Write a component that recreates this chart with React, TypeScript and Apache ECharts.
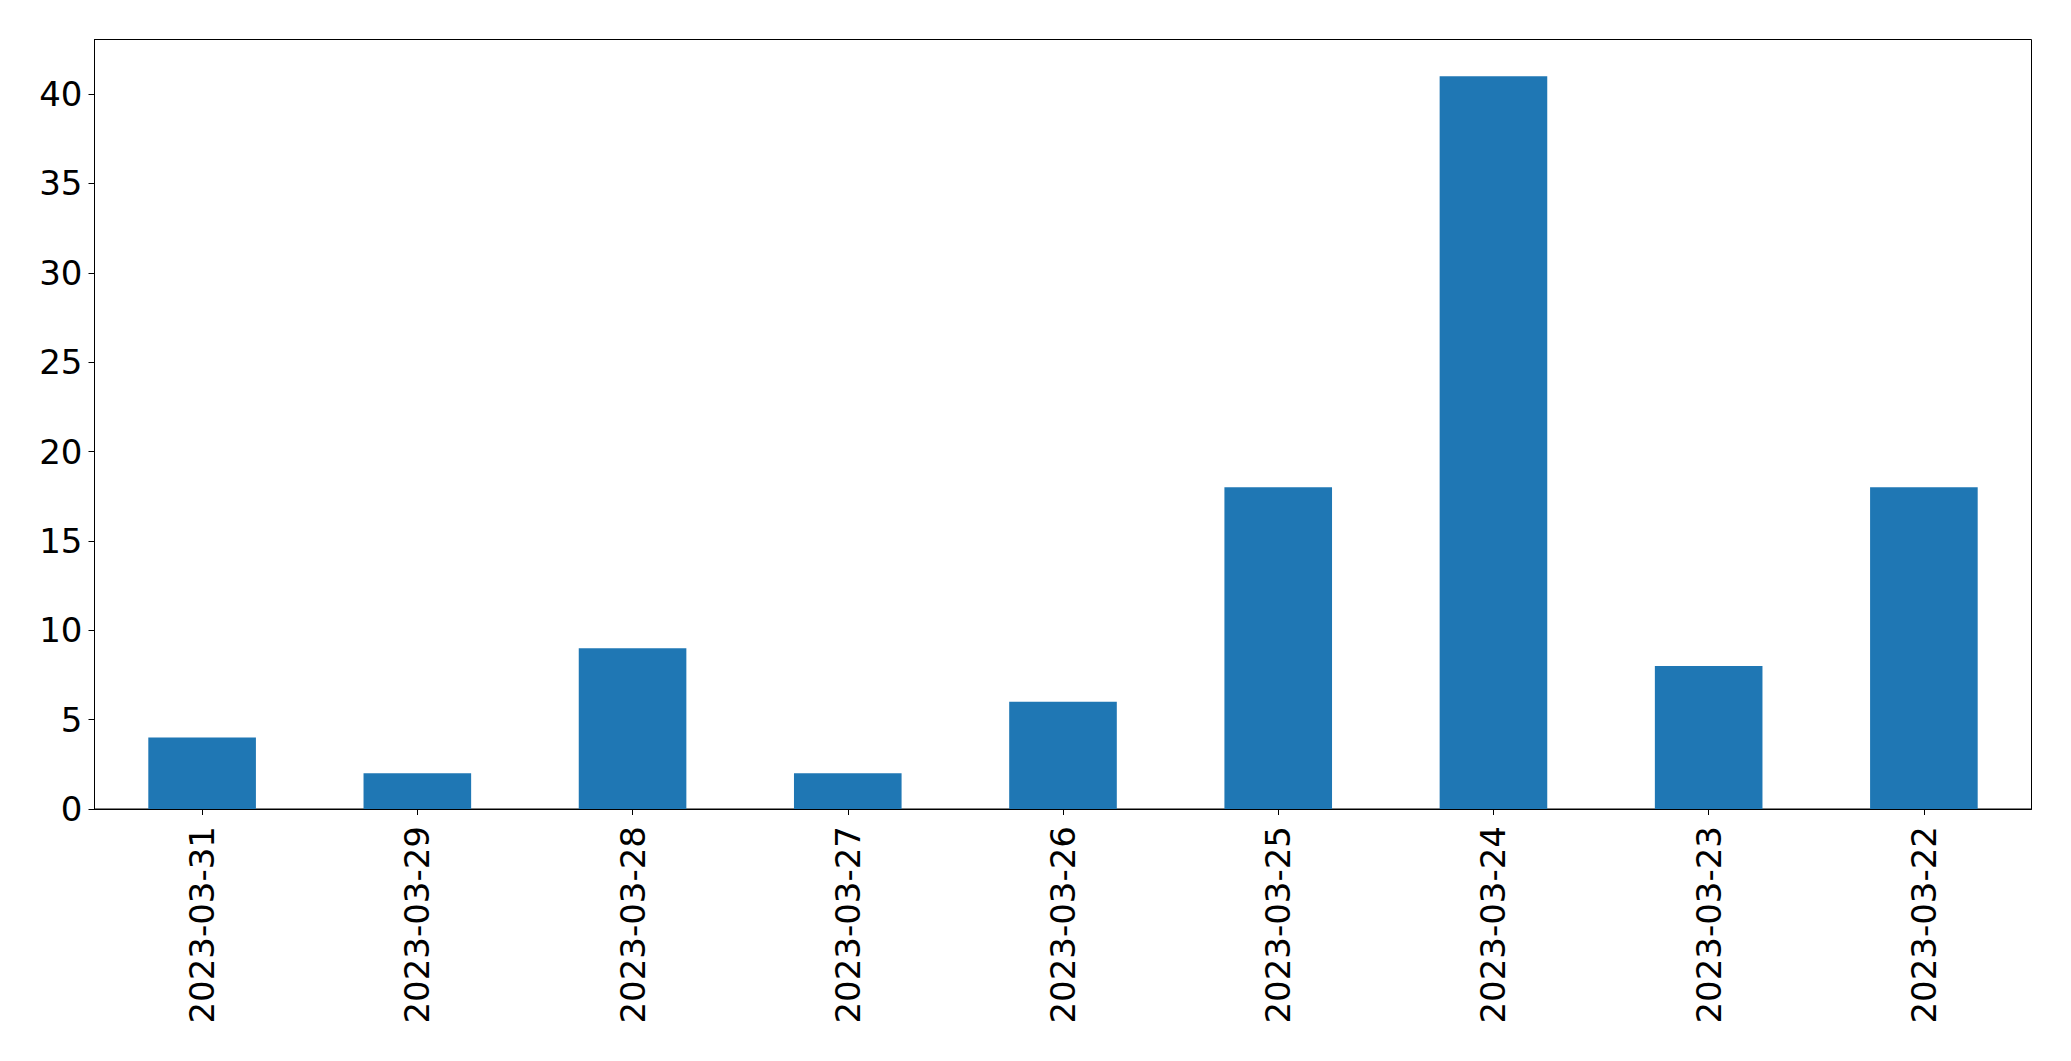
import React, { useEffect, useRef } from "react";
import * as echarts from "echarts";

const categories = [
  "2023-03-31",
  "2023-03-29",
  "2023-03-28",
  "2023-03-27",
  "2023-03-26",
  "2023-03-25",
  "2023-03-24",
  "2023-03-23",
  "2023-03-22",
];
const values = [4, 2, 9, 2, 6, 18, 41, 8, 18];
const yTicks = [0, 5, 10, 15, 20, 25, 30, 35, 40];

export default function App() {
  const ref = useRef<HTMLDivElement>(null);
  useEffect(() => {
    if (!ref.current) return;
    const chart = echarts.init(ref.current, undefined, { renderer: "svg" });
    const font = "DejaVu Sans";
    chart.setOption({
      animation: false,
      backgroundColor: "#ffffff",
      grid: {
        left: 94.5,
        right: 39.5,
        top: 39.5,
        bottom: 252,
        show: true,
        borderColor: "#000000",
        borderWidth: 1,
        backgroundColor: "transparent",
      },
      xAxis: {
        type: "category",
        data: categories,
        boundaryGap: true,
        axisLine: { show: true, lineStyle: { color: "#000000", width: 1 } },
        axisTick: {
          show: true,
          alignWithLabel: true,
          length: 6,
          lineStyle: { color: "#000000", width: 1 },
        },
        axisLabel: {
          rotate: 90,
          interval: 0,
          margin: 17,
          color: "#000000",
          fontFamily: font,
          fontSize: 34,
        },
        splitLine: { show: false },
      },
      yAxis: {
        type: "value",
        min: 0,
        max: 43.05,
        interval: 5,
        axisLine: { show: true, lineStyle: { color: "#000000", width: 1 } },
        axisTick: {
          show: true,
          length: 6,
          lineStyle: { color: "#000000", width: 1 },
          customValues: yTicks,
        },
        axisLabel: {
          margin: 12,
          color: "#000000",
          fontFamily: font,
          fontSize: 34,
          customValues: yTicks,
        },
        splitLine: { show: false },
      },
      series: [
        {
          type: "bar",
          data: values,
          barWidth: "50%",
          itemStyle: { color: "#1f77b4" },
        },
      ],
    });
    return () => chart.dispose();
  }, []);
  return (
    <div
      ref={ref}
      style={{ position: "fixed", left: 0, top: 0, width: 2071, height: 1061 }}
    />
  );
}
